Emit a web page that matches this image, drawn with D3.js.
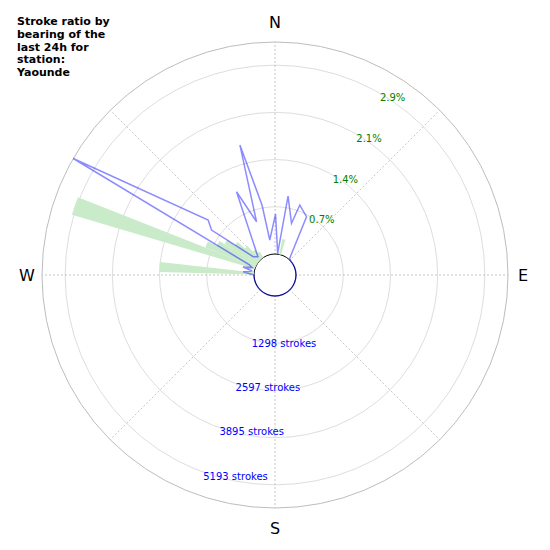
<!DOCTYPE html>
<html>
<head>
<meta charset="utf-8">
<script src="https://cdn.jsdelivr.net/npm/d3@7"></script>
<style>
    body { margin: 0; background: #fff; }
    svg { display: block; font-family: "DejaVu Sans", sans-serif; }
</style>
</head>
<body>
<script>
// title, one entry per line
var titleLines = ["Stroke ratio by", "bearing of the", "last 24h for", "station:", "Yaounde"];

// compass labels
var compassNames = ["N", "E", "S", "W"];
var compassBearings = [0, 90, 180, 270];

// rings: strokes and the matching ratio labels
var strokeTicks = [1298, 2597, 3895, 5193];
var strokeTickLabels = ["1298 strokes", "2597 strokes", "3895 strokes", "5193 strokes"];
var pctTickLabels = ["0.7%", "1.4%", "2.1%", "2.9%"];
var pctAtLastTick = 2.87;
var strokeMax = 5830;

// green bars: ratio (%) per bearing bin
var ratioBearings = [14, 274, 289, 294, 299, 304, 309, 314, 319, 324];
var ratioPct = [0.24, 1.44, 2.90, 0.82, 0.67, 0.58, 0.44, 0.29, 0.17, 0.11];

// blue line: strokes per bearing
var lineBearings = [0.5, 7, 9.4, 17.7, 19.5, 28.4, 41.5,
    50, 60, 70, 80, 90, 100, 110, 120, 130, 140, 150, 160, 170, 180,
    190, 200, 210, 220, 230, 240, 250, 260, 270,
    275.9, 280, 284, 288, 292, 300, 309.4, 305.3, 310, 317,
    335.2, 340.9, 344.9, 349.5, 351.5];
var lineStrokes = [1099, 22, 1621, 915, 1464, 1245, 30,
    0, 0, 0, 0, 0, 0, 0, 0, 0, 0, 0, 0, 0, 0,
    0, 0, 0, 0, 0, 0, 0, 0, 0,
    302, 55, 330, 82, 192, 5830, 1802, 1561, 206, 110,
    1945, 973, 3124, 1374, 396];

var width = 550, height = 550;
var cx = 275, cy = 275;
var holeR = 21, outerR = 233;
var spokeBearings = [0, 45, 90, 135, 180, 225, 270, 315];

function rad(b) { return b * Math.PI / 180; }

var r = d3.scaleLinear().domain([0, strokeMax]).range([holeR, outerR]);
var rPct = d3.scaleLinear().domain([0, pctAtLastTick]).range([holeR, r(strokeTicks[3])]);

function px(b, rr) { return rr * Math.sin(rad(b)); }
function py(b, rr) { return -rr * Math.cos(rad(b)); }

var svg = d3.select("body").append("svg")
    .attr("width", width)
    .attr("height", height);

var g = svg.append("g")
    .attr("transform", "translate(" + cx + "," + cy + ")");

// grid rings
g.selectAll(".ring").data(strokeTicks).enter().append("circle")
    .attr("class", "ring")
    .attr("r", function (d) { return r(d); })
    .attr("fill", "none")
    .attr("stroke", "#d4d4d4")
    .attr("stroke-width", 0.8);

// spokes
g.selectAll(".spoke").data(spokeBearings).enter().append("line")
    .attr("class", "spoke")
    .attr("x1", 0).attr("y1", 0)
    .attr("x2", function (d) { return px(d, outerR); })
    .attr("y2", function (d) { return py(d, outerR); })
    .attr("stroke", "#b8b8b8")
    .attr("stroke-width", 0.8)
    .attr("stroke-dasharray", "2,2");

// frame
g.append("circle")
    .attr("r", outerR)
    .attr("fill", "none")
    .attr("stroke", "#bdbdbd")
    .attr("stroke-width", 1);

// hole
g.append("circle")
    .attr("r", holeR)
    .attr("fill", "#fff")
    .attr("stroke", "#000")
    .attr("stroke-width", 1);

// ratio bars
var arc = d3.arc()
    .innerRadius(holeR)
    .outerRadius(function (d, i) { return rPct(ratioPct[i]); })
    .startAngle(function (d) { return rad(d - 2.5); })
    .endAngle(function (d) { return rad(d + 2.5); });

g.selectAll(".bar").data(ratioBearings).enter().append("path")
    .attr("class", "bar")
    .attr("d", function (d, i) { return arc(d, i); })
    .attr("fill", "#c9ebc9");

// strokes line
var linePts = lineBearings.map(function (b, i) { return [b, lineStrokes[i]]; });
var radial = d3.lineRadial()
    .angle(function (d) { return rad(d[0]); })
    .radius(function (d) { return r(d[1]); })
    .curve(d3.curveLinearClosed);

g.append("path")
    .attr("d", radial(linePts))
    .attr("fill", "none")
    .attr("stroke", "blue")
    .attr("stroke-opacity", 0.45)
    .attr("stroke-width", 1.5)
    .attr("stroke-linejoin", "miter");

// ring labels: ratio at 30 deg, strokes at 200 deg
g.selectAll(".pctlab").data(strokeTicks).enter().append("text")
    .attr("class", "pctlab")
    .attr("x", function (d) { return px(30, r(d)); })
    .attr("y", function (d) { return py(30, r(d)) + 7.5; })
    .attr("font-size", 10)
    .attr("fill", "green")
    .text(function (d, i) { return pctTickLabels[i]; });

g.selectAll(".strlab").data(strokeTicks).enter().append("text")
    .attr("class", "strlab")
    .attr("x", function (d) { return px(200, r(d)); })
    .attr("y", function (d) { return py(200, r(d)) + 7.5; })
    .attr("font-size", 10)
    .attr("fill", "blue")
    .text(function (d, i) { return strokeTickLabels[i]; });

// compass
g.selectAll(".compass").data(compassBearings).enter().append("text")
    .attr("class", "compass")
    .attr("x", function (d) { return px(d, outerR + (d % 180 === 0 ? 20 : 15)); })
    .attr("y", function (d) { return py(d, outerR + (d % 180 === 0 ? 20 : 15)); })
    .attr("text-anchor", "middle")
    .attr("dominant-baseline", "central")
    .attr("font-size", 16)
    .attr("fill", "#000")
    .text(function (d, i) { return compassNames[i]; });

// title
svg.append("text")
    .attr("x", 17)
    .attr("y", 25)
    .attr("font-size", 11)
    .attr("font-weight", "bold")
    .attr("fill", "#000")
    .selectAll("tspan").data(titleLines).enter().append("tspan")
    .attr("x", 17)
    .attr("dy", function (d, i) { return i === 0 ? 0 : 12.8; })
    .text(function (d) { return d; });
</script>
</body>
</html>
